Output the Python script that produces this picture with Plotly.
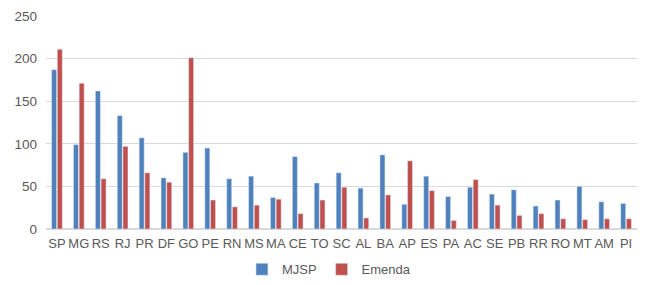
import plotly.graph_objects as go

estados = ["SP","MG","RS","RJ","PR","DF","GO","PE","RN","MS","MA","CE","TO","SC",
           "AL","BA","AP","ES","PA","AC","SE","PB","RR","RO","MT","AM","PI"]
mjsp = [187, 99, 162, 133, 107, 60, 90, 95, 59, 62, 37, 85, 54, 66,
        48, 87, 29, 62, 38, 49, 41, 46, 27, 34, 50, 32, 30]
emenda = [211, 171, 59, 97, 66, 55, 201, 34, 26, 28, 35, 18, 34, 49,
          13, 40, 80, 45, 10, 58, 28, 16, 18, 12, 11, 12, 12]
y_ticks = [0, 50, 100, 150, 200, 250]

fig = go.Figure()
fig.add_trace(go.Bar(x=estados, y=mjsp, name="MJSP", marker_color="#4F81BD"))
fig.add_trace(go.Bar(x=estados, y=emenda, name="Emenda", marker_color="#C0504D"))

fig.update_layout(
    width=645, height=285,
    margin=dict(l=46, r=8, t=16, b=56),
    paper_bgcolor="white", plot_bgcolor="white",
    barmode="group", bargap=0.48, bargroupgap=0.12,
    font=dict(family="Liberation Sans, Arial, sans-serif", size=13, color="#595959"),
    showlegend=True,
    legend=dict(orientation="h", x=0.51, xanchor="center", xref="container",
                y=0.055, yanchor="middle", yref="container",
                font=dict(size=13, color="#595959"), itemwidth=30, tracegroupgap=0),
    xaxis=dict(showgrid=False, showline=False, ticks="", tickangle=0, automargin=False,
               ticklabelstandoff=5, tickfont=dict(size=13, color="#595959")),
    yaxis=dict(range=[0, 250], tickvals=y_ticks, showgrid=True, gridcolor="#D9D9D9",
               gridwidth=1, zeroline=True, zerolinecolor="#D9D9D9", ticks="",
               automargin=False, ticklabelstandoff=8,
               tickfont=dict(size=13.5, color="#595959")),
)

fig.write_html("out.html", config={"displayModeBar": False},
               post_script="document.body.style.margin='0';document.body.style.overflow='hidden';")
